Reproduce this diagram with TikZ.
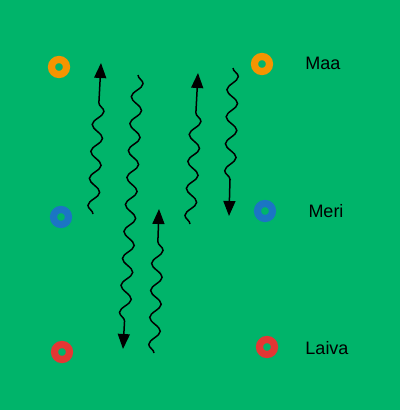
\documentclass[tikz,border=0pt]{standalone}
\usepackage{fontspec}
\setmainfont{Liberation Sans}
\usetikzlibrary{decorations.pathmorphing,arrows.meta}
\definecolor{meadow}{RGB}{0,180,106}
\definecolor{maacol}{RGB}{245,148,0}
\definecolor{mericol}{RGB}{27,117,196}
\definecolor{laivacol}{RGB}{228,55,52}
\begin{document}
\begin{tikzpicture}[x=1pt,y=-1pt,
  ring/.style={circle,draw=#1,line width=7.2pt,minimum size=15pt,inner sep=0pt},
  wave/.style={line width=1.5pt,-{Triangle[length=15pt,width=12pt]},decorate,
    decoration={snake,amplitude=5.5pt,segment length=27pt,post length=#1}},
  lbl/.style={font=\fontsize{18}{21}\selectfont}]
\fill[meadow] (0,0) rectangle (400,410);
\node[ring=maacol] (MaaL) at (59,67) {};
\node[ring=maacol] (MaaR) at (262,64) {};
\node[ring=mericol] (MeriL) at (61,217) {};
\node[ring=mericol] (MeriR) at (265,211) {};
\node[ring=laivacol] (LaivaL) at (62,352) {};
\node[ring=laivacol] (LaivaR) at (267,347) {};
\node[lbl] (Maa) at (323,63) {Maa};
\node[lbl] (Meri) at (326,211) {Meri};
\node[lbl] (Laiva) at (327,348) {Laiva};
\coordinate (A) at (93,214);
\coordinate (A') at (101,63);
\coordinate (B) at (138,75);
\coordinate (B') at (123,349);
\coordinate (C) at (154,353);
\coordinate (C') at (159,209);
\coordinate (D) at (190,224);
\coordinate (D') at (198,73);
\coordinate (E) at (233,68);
\coordinate (E') at (229,216);
\draw[wave=32pt] (A) -- (A');
\draw[wave=28pt] (B) -- (B');
\draw[wave=30pt] (C) -- (C');
\draw[wave=30pt] (D) -- (D');
\draw[wave=29pt] (E) -- (E');
\end{tikzpicture}
\end{document}
